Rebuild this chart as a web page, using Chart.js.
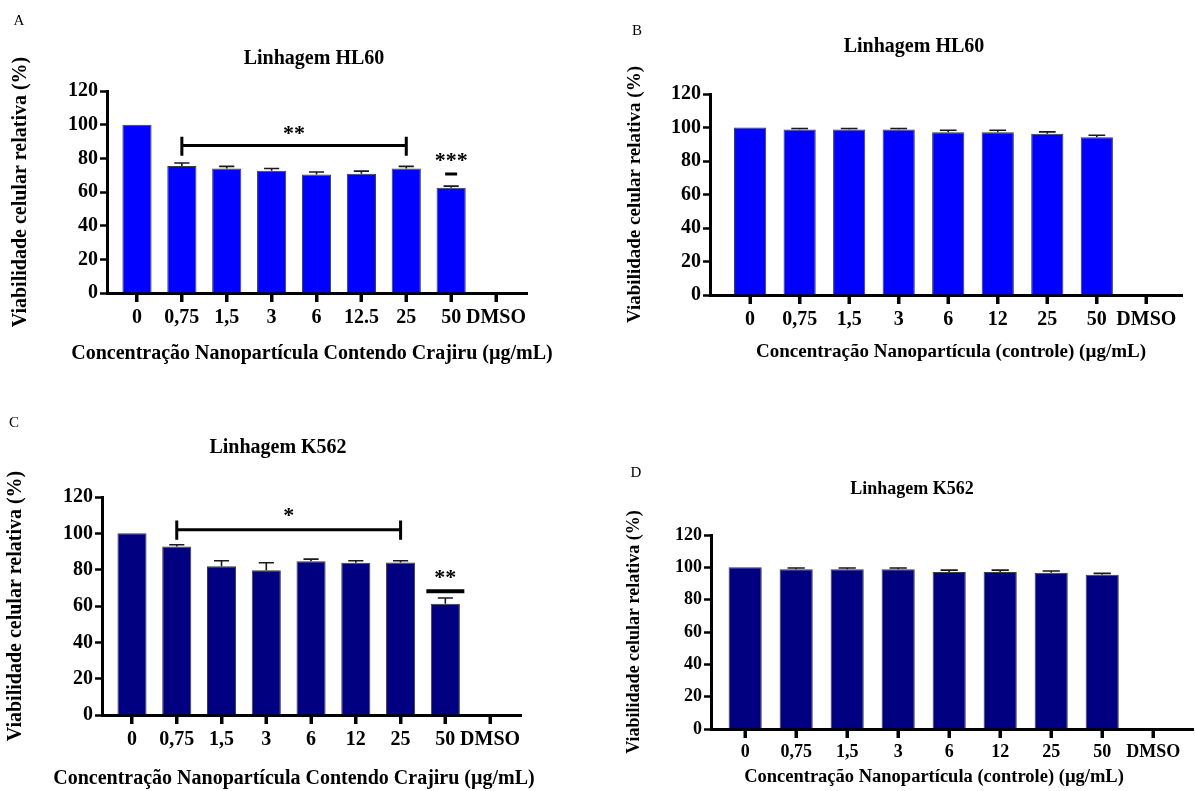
<!DOCTYPE html>
<html>
<head>
<meta charset="utf-8">
<script src="https://cdn.jsdelivr.net/npm/chart.js@4.4.1/dist/chart.umd.min.js"></script>
<style>
    body { margin: 0; background: #fff; width: 1195px; height: 791px; position: relative; overflow: hidden;
           font-family: "Liberation Serif", "Times New Roman", serif; color: #000; }
    canvas { position: absolute; }
    .txt { position: absolute; transform: translate(-50%, -50%); white-space: nowrap; font-weight: bold; }
    .letter { font-size: 15px; font-weight: normal; }
</style>
</head>
<body>
<canvas id="chart-a"></canvas>
<canvas id="chart-b"></canvas>
<canvas id="chart-c"></canvas>
<canvas id="chart-d"></canvas>

<div class="txt letter" style="left:19px;top:20px">A</div>
<div class="txt" style="left:314px;top:57px;font-size:20px">Linhagem HL60</div>
<div class="txt" style="left:312px;top:352px;font-size:20px">Concentração Nanopartícula Contendo Crajiru (µg/mL)</div>

<div class="txt letter" style="left:637px;top:30px">B</div>
<div class="txt" style="left:914px;top:45px;font-size:20px">Linhagem HL60</div>
<div class="txt" style="left:951px;top:351px;font-size:19px">Concentração Nanopartícula (controle) (µg/mL)</div>

<div class="txt letter" style="left:14px;top:422px">C</div>
<div class="txt" style="left:278px;top:446px;font-size:20px">Linhagem K562</div>
<div class="txt" style="left:294px;top:777px;font-size:20px">Concentração Nanopartícula Contendo Crajiru (µg/mL)</div>

<div class="txt letter" style="left:636px;top:472px">D</div>
<div class="txt" style="left:912px;top:488px;font-size:18px">Linhagem K562</div>
<div class="txt" style="left:934px;top:776px;font-size:18.5px">Concentração Nanopartícula (controle) (µg/mL)</div>

<script>
// categories (x tick labels)
const dosesA = ["0", "0,75", "1,5", "3", "6", "12.5", "25", "50", "DMSO"];
const doses = ["0", "0,75", "1,5", "3", "6", "12", "25", "50", "DMSO"];

// mean viability (%) and upper SEM
const hl60Crajiru = [100, 75.5, 74.0, 72.6, 70.4, 70.9, 74.0, 62.5, null];
const hl60CrajiruErr = [0, 1.7, 1.2, 1.4, 1.5, 1.5, 1.2, 1.0, null];
const hl60Controle = [100, 98.8, 98.8, 98.8, 97.2, 97.2, 96.2, 94.2, null];
const hl60ControleErr = [0, 0.6, 0.6, 0.6, 1.2, 1.2, 1.2, 1.2, null];
const k562Crajiru = [100, 92.8, 81.9, 79.7, 84.7, 83.8, 84.0, 61.3, null];
const k562CrajiruErr = [0, 0.9, 3.0, 4.1, 1.1, 1.1, 0.9, 3.1, null];
const k562Controle = [100, 98.75, 98.75, 98.75, 97.1, 97.1, 96.7, 95.4, null];
const k562ControleErr = [0, 0.8, 0.8, 0.8, 1.2, 1.2, 1.0, 0.85, null];

const yTitle = "Viabilidade celular relativa (%)";
const BLUE = "#0000ff";
const NAVY = "#000080";

Chart.defaults.font.family = '"Liberation Serif", "Times New Roman", serif';
Chart.defaults.font.weight = "bold";
Chart.defaults.color = "#000";

// upward-only error bars, like GraphPad
const errorBars = {
    id: "errorBars",
    afterDatasetsDraw(chart) {
        const { ctx, scales: { y } } = chart;
        const ds = chart.data.datasets[0];
        const meta = chart.getDatasetMeta(0);
        ctx.save();
        ctx.strokeStyle = "#1a1a1a";
        ctx.lineWidth = 1.6;
        ds.data.forEach((pt, i) => {
            const e = ds.errors[i];
            if (pt.y == null || !e) return;
            const bar = meta.data[i];
            const half = bar.width * 0.26;
            const top = y.getPixelForValue(pt.y);
            const tip = y.getPixelForValue(pt.y + e);
            ctx.beginPath();
            ctx.moveTo(bar.x, top);
            ctx.lineTo(bar.x, tip);
            ctx.moveTo(bar.x - half, tip);
            ctx.lineTo(bar.x + half, tip);
            ctx.stroke();
        });
        ctx.restore();
    },
};

// outward tick marks under every category
const xTickMarks = {
    id: "xTickMarks",
    afterDraw(chart) {
        const { ctx, scales: { x } } = chart;
        ctx.save();
        ctx.strokeStyle = "#000";
        ctx.lineWidth = 3;
        ctx.beginPath();
        x.ticks.forEach((t) => {
            const px = Math.round(x.getPixelForValue(t.value));
            ctx.moveTo(px, x.top);
            ctx.lineTo(px, x.top + 9);
        });
        ctx.stroke();
        ctx.restore();
    },
};

// significance marks (bracket + asterisks)
const sigMarks = {
    id: "sig",
    afterDatasetsDraw(chart, args, opts) {
        const { ctx, scales: { x, y } } = chart;
        ctx.save();
        ctx.strokeStyle = "#000";
        ctx.fillStyle = "#000";
        ctx.textAlign = "center";
        ctx.textBaseline = "middle";
        ctx.font = 'bold 22px "Liberation Serif", serif';
        const b = opts.bracket;
        if (b) {
            const x1 = x.getPixelForValue(b.from);
            const x2 = x.getPixelForValue(b.to);
            ctx.lineWidth = 3;
            ctx.beginPath();
            ctx.moveTo(x1, y.getPixelForValue(b.y));
            ctx.lineTo(x2, y.getPixelForValue(b.y));
            [x1, x2].forEach((xx) => {
                ctx.moveTo(xx, y.getPixelForValue(b.hi));
                ctx.lineTo(xx, y.getPixelForValue(b.lo));
            });
            ctx.stroke();
            ctx.fillText(b.label, (x1 + x2) / 2, y.getPixelForValue(b.labelY));
        }
        const s = opts.single;
        if (s) {
            const cx = x.getPixelForValue(s.at);
            ctx.lineWidth = s.thick;
            ctx.beginPath();
            ctx.moveTo(cx - s.half, y.getPixelForValue(s.y));
            ctx.lineTo(cx + s.half, y.getPixelForValue(s.y));
            ctx.stroke();
            ctx.fillText(s.label, cx, y.getPixelForValue(s.labelY));
        }
        ctx.restore();
    },
};

const panels = [
    {
        id: "chart-a", box: [0, 0, 597, 395], area: { l: 107, r: 527, t: 91, b: 293 },
        xmin: -0.668, xmax: 8.69, labels: dosesA, values: hl60Crajiru, errors: hl60CrajiruErr,
        color: BLUE, font: 20, yTitlePad: 9,
        sig: {
            bracket: { from: 1, to: 6, y: 87.6, hi: 92.8, lo: 81.6, label: "**", labelY: 94.5 },
            single: { at: 7, y: 70.7, half: 6, thick: 3, label: "***", labelY: 78 },
        },
    },
    {
        id: "chart-b", box: [597, 0, 598, 395], area: { l: 113, r: 585, t: 94, b: 295 },
        xmin: -0.81, xmax: 8.72, labels: doses, values: hl60Controle, errors: hl60ControleErr,
        color: BLUE, font: 20, yTitleSize: 19, yTitlePad: 27, sig: {},
    },
    {
        id: "chart-c", box: [0, 395, 597, 396], area: { l: 102, r: 521, t: 102, b: 320 },
        xmin: -0.67, xmax: 8.69, labels: doses, values: k562Crajiru, errors: k562CrajiruErr,
        color: NAVY, font: 20, yTitlePad: 4,
        sig: {
            bracket: { from: 1, to: 6, y: 102, hi: 107, lo: 96.5, label: "*", labelY: 109.5 },
            single: { at: 7, y: 68.1, half: 19, thick: 4, label: "**", labelY: 75 },
        },
    },
    {
        id: "chart-d", box: [597, 395, 598, 396], area: { l: 114, r: 596, t: 140, b: 334 },
        xmin: -0.67, xmax: 8.78, labels: doses, values: k562Controle, errors: k562ControleErr,
        color: NAVY, font: 18, yTitlePad: 27, sig: {},
    },
];

const X_SCALE_H = 42;

const drawPanel = (p) => {
    const el = document.getElementById(p.id);
    const [left, top, W, H] = p.box;
    el.width = W;
    el.height = H;
    el.style.left = left + "px";
    el.style.top = top + "px";
    el.style.width = W + "px";
    el.style.height = H + "px";

    return new Chart(el, {
        type: "bar",
        data: {
            datasets: [{
                data: p.values.map((v, i) => ({ x: i, y: v })),
                errors: p.errors,
                backgroundColor: p.color,
                borderColor: "#3c3c3c",
                borderWidth: 1,
                barPercentage: 0.65,
                categoryPercentage: 1,
            }],
        },
        options: {
            responsive: false,
            animation: false,
            devicePixelRatio: 1,
            layout: { padding: { left: 0, top: p.area.t, right: W - p.area.r, bottom: H - p.area.b - X_SCALE_H } },
            plugins: { legend: { display: false }, tooltip: { enabled: false }, sig: p.sig },
            scales: {
                x: {
                    type: "linear",
                    offset: false,
                    min: p.xmin,
                    max: p.xmax,
                    afterBuildTicks: (s) => { s.ticks = p.labels.map((_, i) => ({ value: i })); },
                    afterFit: (s) => { s.height = X_SCALE_H; },
                    ticks: {
                        callback: (v) => p.labels[v],
                        font: { size: p.font, weight: "bold" },
                        padding: 4,
                        maxRotation: 0,
                        autoSkip: false,
                    },
                    grid: { offset: false, drawOnChartArea: false, tickLength: 9, tickWidth: 3, tickColor: "#000" },
                    border: { color: "#000", width: 3 },
                },
                y: {
                    min: 0,
                    max: 120,
                    afterFit: (s) => { s.width = p.area.l; },
                    ticks: { stepSize: 20, font: { size: p.font, weight: "bold" }, padding: 2 },
                    grid: { drawOnChartArea: false, tickLength: 7, tickWidth: 2.5, tickColor: "#000" },
                    border: { color: "#000", width: 3 },
                    title: {
                        display: true,
                        text: yTitle,
                        font: { size: p.yTitleSize || p.font, weight: "bold" },
                        padding: { top: p.yTitlePad, bottom: 0 },
                    },
                },
            },
        },
        plugins: [errorBars, sigMarks, xTickMarks],
    });
};

panels.forEach(drawPanel);
</script>
</body>
</html>
